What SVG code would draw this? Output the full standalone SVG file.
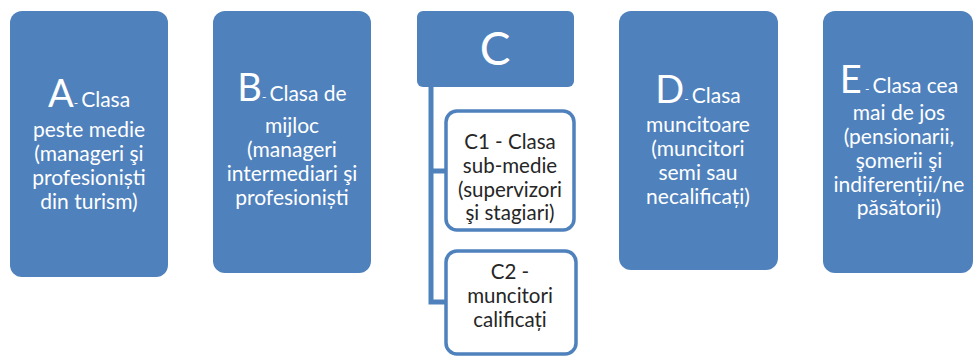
<svg xmlns="http://www.w3.org/2000/svg" width="974" height="356" viewBox="0 0 974 356">
<style>
.box{fill:#4F81BD;}
.sub{fill:#FFFFFF;stroke:#4F81BD;stroke-width:3.5;}
.t{font-family:Lato,"Open Sans","Liberation Sans",sans-serif;font-size:21px;fill:#FFFFFF;text-anchor:middle;}
.big{font-size:38px;}
.dash{font-size:12px;}
.d{fill:#262626;font-size:20.5px;}
.conn{fill:none;stroke:#4F81BD;stroke-width:5;}
</style>
<rect width="974" height="356" fill="#FFFFFF"/>
<g id="connectors">
<path class="conn" d="M431,87 V302 H446 M431,171 H446"/>
</g>
<g id="nodeA">
<rect class="box" x="10" y="11" width="158" height="266" rx="12"/>
<text class="t" x="89" y="107"><tspan class="big">A</tspan><tspan class="dash">- </tspan>Clasa</text>
<text class="t" x="89" y="137">peste medie</text>
<text class="t" x="89" y="161">(manageri şi</text>
<text class="t" x="89" y="185">profesioniști</text>
<text class="t" x="89" y="209">din turism)</text>
</g>
<g id="nodeB">
<rect class="box" x="213" y="11" width="158" height="262" rx="12"/>
<text class="t" x="292" y="101"><tspan class="big">B</tspan><tspan class="dash">- </tspan>Clasa de</text>
<text class="t" x="292" y="133">mijloc</text>
<text class="t" x="292" y="157">(manageri</text>
<text class="t" x="292" y="181">intermediari şi</text>
<text class="t" x="292" y="205">profesioniști</text>
</g>
<g id="nodeC">
<rect class="box" x="417" y="11" width="157" height="76" rx="6"/>
<text class="t" x="495" y="65" style="font-size:46px">C</text>
</g>
<g id="nodeC1">
<rect class="sub" x="446" y="111" width="128" height="119" rx="11"/>
<text class="t d" x="510" y="149">C1 - Clasa</text>
<text class="t d" x="510" y="173">sub-medie</text>
<text class="t d" x="510" y="197">(supervizori</text>
<text class="t d" x="510" y="220">şi stagiari)</text>
</g>
<g id="nodeC2">
<rect class="sub" x="446" y="251" width="130" height="103" rx="11"/>
<text class="t d" x="510" y="279">C2 -</text>
<text class="t d" x="510" y="303">muncitori</text>
<text class="t d" x="510" y="327">calificați</text>
</g>
<g id="nodeD">
<rect class="box" x="619" y="11" width="159" height="259" rx="12"/>
<text class="t" x="698" y="103"><tspan class="big">D</tspan><tspan class="dash">- </tspan>Clasa</text>
<text class="t" x="698" y="132">muncitoare</text>
<text class="t" x="698" y="156">(muncitori</text>
<text class="t" x="698" y="180">semi sau</text>
<text class="t" x="698" y="204">necalificați)</text>
</g>
<g id="nodeE">
<rect class="box" x="823" y="11" width="150" height="262" rx="12"/>
<text class="t" x="899" y="93"><tspan class="big">E</tspan><tspan class="dash"> - </tspan>Clasa cea</text>
<text class="t" x="899" y="120">mai de jos</text>
<text class="t" x="899" y="144">(pensionarii,</text>
<text class="t" x="899" y="168">şomerii şi</text>
<text class="t" x="899" y="192">indiferenții/ne</text>
<text class="t" x="899" y="215">păsătorii)</text>
</g>
</svg>
